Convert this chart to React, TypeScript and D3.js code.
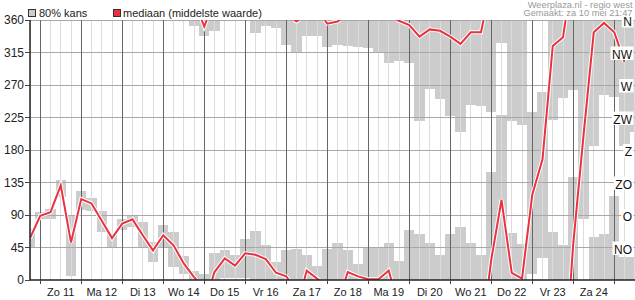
import React from "react";
import * as d3 from "d3";

// ---------- data ----------
const START_UTC = Date.UTC(2014, 4, 10, 18, 0, 0);
const STEP_HOURS = 6;

// median wind direction (degrees), one value per 6 hours
const medianDeg: (number | null)[] = [
  58, 89, 94, 131, 52, 112, 106, 82, 58, 78,
  84, 62, 41, 62, 48, 23, 4, 351, 11, 30,
  20, 37, 35, 29, 10, 5, 358, 13, 2, 355,
  358, 11, 5, 1, 1, 13, 359, 353, 337, 347,
  345, 337, 327, 343, 343, 28, 111, 10, 2, 118,
  167, 324, 336, 50, 200, 343, 356, 343, 302, null,
];

// 80% band: clockwise from bandFrom to bandTo (wraps through north when from > to)
const bandFrom = [
  45, 84, 85, 115, 6, 97, 95, 67, 44, 69,
  74, 44, 25, 44, 18, 9, 352, 338, 345, 3,
  3, 3, 342, 352, 349, 325, 316, 338, 338, 322,
  326, 324, 323, 321, 315, 300, 303, 301, 220, 264,
  251, 227, 205, 243, 241, 232, 328, 220, 214, 9,
  30, 221, 252, 263, 84, 186, 256, 254, 185, 205,
];
const bandTo = [
  70, 94, 99, 138, 88, 123, 114, 95, 65, 85,
  89, 81, 53, 76, 66, 33, 12, 8, 37, 41,
  35, 57, 68, 48, 25, 41, 43, 35, 20, 43,
  51, 41, 22, 45, 45, 51, 26, 69, 64, 51,
  35, 64, 73, 51, 35, 150, 229, 65, 50, 233,
  260, 67, 48, 143, 360, 60, 64, 117, 32, 32,
];

const dayLabels = [
  "Zo 11", "Ma 12", "Di 13", "Wo 14", "Do 15", "Vr 16", "Za 17",
  "Zo 18", "Ma 19", "Di 20", "Wo 21", "Do 22", "Vr 23", "Za 24",
];
const degreeTicks = [0, 45, 90, 135, 180, 225, 270, 315, 360];
const compassDeg = [45, 90, 135, 180, 225, 270, 315, 360];
const compassLabels = ["NO", "O", "ZO", "Z", "ZW", "W", "NW", "N"];
const legendLabels = ["80% kans", "mediaan (middelste waarde)"];
const headerLines = ["Weerplaza.nl - regio west", "Gemaakt: za 10 mei 21:47"];

// ---------- style ----------
const W = 635;
const H = 300;
const PLOT = { left: 30, right: 634.75, top: 20, bottom: 280 };
const FONT = "'Liberation Sans', Arial, Helvetica, sans-serif";
const BAR = "#cccccc";
const RED = "#e8323f";

// Arial advance widths (em/1000) for the compass glyphs, to size label backgrounds
const glyphW: Record<string, number> = { N: 722, O: 778, Z: 611, W: 944 };

export default function App() {
  const times = medianDeg.map((_, i) =>
    d3.utcHour.offset(new Date(START_UTC), i * STEP_HOURS)
  );
  const last = times[times.length - 1];
  const x = d3.scaleUtc().domain([times[0], last]).range([PLOT.left, PLOT.right]);
  const y = d3.scaleLinear().domain([0, 360]).range([PLOT.bottom, PLOT.top]);
  const slot = x(times[1]) - x(times[0]);

  const midnights = d3.utcDay.range(d3.utcDay.ceil(times[0]), new Date(+last + 1));
  const sixHourly = d3.utcHour
    .every(6)!
    .range(times[0], new Date(+last + 1))
    .filter((t) => t.getUTCHours() !== 0);

  // band rectangles
  const bars: { x0: number; lo: number; hi: number }[] = [];
  times.forEach((t, i) => {
    const f = bandFrom[i];
    const to = bandTo[i];
    const x0 = x(t) - slot / 2;
    if (f <= to) bars.push({ x0, lo: f, hi: to });
    else {
      bars.push({ x0, lo: f, hi: 360 });
      bars.push({ x0, lo: 0, hi: to });
    }
  });

  // median polylines, split where the direction wraps through north
  const segs: [number, number][][] = [];
  let cur: [number, number][] = [];
  let prev: { px: number; v: number } | null = null;
  times.forEach((t, i) => {
    const v = medianDeg[i];
    const px = x(t);
    if (v == null) {
      if (cur.length > 1) segs.push(cur);
      cur = [];
      prev = null;
      return;
    }
    if (!prev) {
      cur = [[px, y(v)]];
    } else if (Math.abs(v - prev.v) > 180) {
      const mx = (prev.px + px) / 2;
      const g = (px - prev.px) * 0.25;
      if (prev.v > v) {
        cur.push([mx - g, y(360)]);
        segs.push(cur);
        cur = [[mx + g, y(0)], [px, y(v)]];
      } else {
        cur.push([mx - g, y(0)]);
        segs.push(cur);
        cur = [[mx + g, y(360)], [px, y(v)]];
      }
    } else {
      cur.push([px, y(v)]);
    }
    prev = { px, v };
  });
  if (cur.length > 1) segs.push(cur);
  const line = d3.line<[number, number]>().x((d) => d[0]).y((d) => d[1]);

  return (
    <div style={{ position: "fixed", left: 0, top: 0, width: W, height: H, background: "#fff" }}>
      <svg width={W} height={H} style={{ display: "block" }} fontFamily={FONT}>
        <defs>
          <clipPath id="plot">
            <rect x={PLOT.left} y={PLOT.top} width={W - PLOT.left} height={PLOT.bottom - PLOT.top} />
          </clipPath>
        </defs>
        <rect x={0} y={0} width={W} height={H} fill="#fff" />

        <g clipPath="url(#plot)">
          {bars.map((b, k) => (
            <rect
              key={k}
              x={b.x0}
              width={slot}
              y={y(b.hi)}
              height={y(b.lo) - y(b.hi)}
              fill={BAR}
              shapeRendering="crispEdges"
            />
          ))}
          {sixHourly.map((t, k) => (
            <line key={"s" + k} x1={x(t)} x2={x(t)} y1={PLOT.top} y2={PLOT.bottom}
              stroke="#dcdcdc" strokeWidth={1} shapeRendering="crispEdges" />
          ))}
          {degreeTicks.map((d) => (
            <line key={"h" + d} x1={PLOT.left} x2={W} y1={y(d)} y2={y(d)}
              stroke="#a8a8a8" strokeWidth={1} shapeRendering="crispEdges" />
          ))}
          {midnights.map((t, k) => (
            <line key={"d" + k} x1={x(t)} x2={x(t)} y1={PLOT.top} y2={PLOT.bottom}
              stroke="#666" strokeWidth={1} shapeRendering="crispEdges" />
          ))}
          {segs.map((s, k) => (
            <path key={"w" + k} d={line(s) || ""} fill="none" stroke="#fff"
              strokeWidth={4} strokeLinejoin="miter" />
          ))}
          {segs.map((s, k) => (
            <path key={"r" + k} d={line(s) || ""} fill="none" stroke={RED}
              strokeWidth={2} strokeLinejoin="miter" />
          ))}
        </g>

        {/* axes */}
        <line x1={PLOT.left} x2={PLOT.left} y1={PLOT.top} y2={PLOT.bottom + 0.5} stroke="#222" strokeWidth={1.5} />
        <line x1={PLOT.left} x2={W} y1={PLOT.bottom} y2={PLOT.bottom} stroke="#222" strokeWidth={1.5} />
        {degreeTicks.map((d) => (
          <g key={"yt" + d}>
            <line x1={PLOT.left - 5} x2={PLOT.left} y1={y(d)} y2={y(d)} stroke="#444" shapeRendering="crispEdges" />
            <text x={24} y={y(d) + 4.3} textAnchor="end" fontSize={12} fill="#222">{d}</text>
          </g>
        ))}
        {midnights.map((t, k) => (
          <line key={"xt" + k} x1={x(t)} x2={x(t)} y1={PLOT.bottom} y2={PLOT.bottom + 4}
            stroke="#444" shapeRendering="crispEdges" />
        ))}
        {dayLabels.map((lab, k) => (
          <text key={"dl" + k} x={x(d3.utcHour.offset(midnights[k], 12))} y={296}
            textAnchor="middle" fontSize={11} fill="#222">{lab}</text>
        ))}

        {/* compass labels */}
        {compassDeg.map((d, k) => {
          const lab = compassLabels[k];
          const w = lab.split("").reduce((s, c) => s + (glyphW[c] || 700), 0) * 12 / 1000;
          const top = d === 360 ? y(d) - 3 : y(d) - 6;
          return (
            <g key={"c" + lab}>
              <rect x={632 - w - 1.5} y={top} width={w + 3} height={y(d) + 7.5 - top} fill="#fff" />
              <text x={632} y={y(d) + 6.2} textAnchor="end" fontSize={12} fill="#111">{lab}</text>
            </g>
          );
        })}

        {/* legend */}
        <rect x={28.5} y={9.5} width={7} height={7} fill={BAR} stroke="#333" strokeWidth={1} />
        <text x={39} y={16.8} fontSize={11} fill="#222">{legendLabels[0]}</text>
        <rect x={113.5} y={9.5} width={7} height={7} fill={RED} stroke="#333" strokeWidth={1} />
        <text x={123} y={16.8} fontSize={11} fill="#222">{legendLabels[1]}</text>

        {/* header */}
        <text x={632.5} y={7.6} textAnchor="end" fontSize={9.3} fill="#999">{headerLines[0]}</text>
        <text x={632.5} y={16.2} textAnchor="end" fontSize={9.3} fill="#999">{headerLines[1]}</text>
      </svg>
    </div>
  );
}
